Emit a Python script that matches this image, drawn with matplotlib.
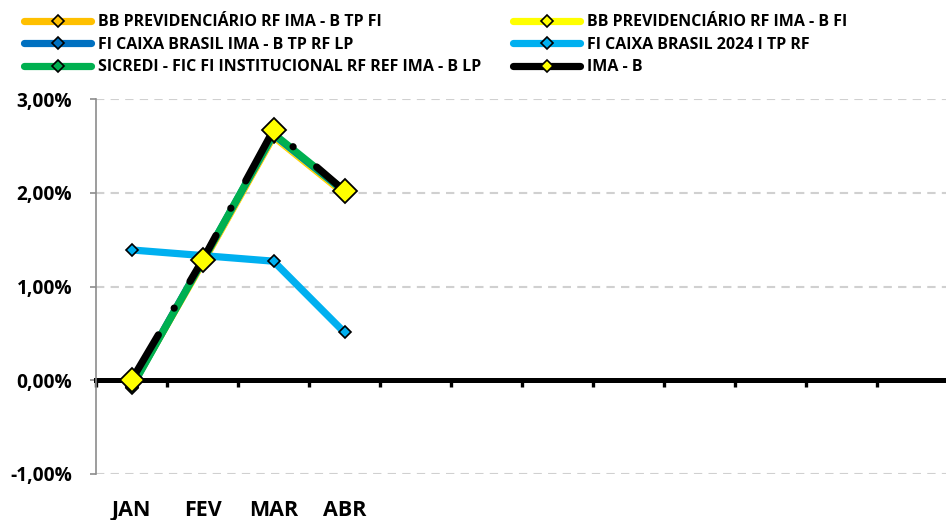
import matplotlib
matplotlib.use("Agg")
import matplotlib.pyplot as plt
from matplotlib.lines import Line2D
from matplotlib.ticker import FixedLocator, FuncFormatter

months = ["JAN", "FEV", "MAR", "ABR", "", "", "", "", "", "", "", ""]
series_names = [
    "BB PREVIDENCIÁRIO RF IMA - B TP FI",
    "BB PREVIDENCIÁRIO RF IMA - B FI",
    "FI CAIXA BRASIL IMA - B TP RF LP",
    "FI CAIXA BRASIL 2024 I TP RF",
    "SICREDI - FIC FI INSTITUCIONAL RF REF IMA - B LP",
    "IMA - B",
]
bb_tp = [-0.06, 1.25, 2.60, 1.99]
bb_fi = [-0.07, 1.26, 2.61, 2.00]
caixa_imab = [-0.07, 1.27, 2.62, 2.01]
caixa_2024 = [1.39, 1.33, 1.27, 0.51]
sicredi = [-0.08, 1.27, 2.63, 2.02]
imab = [0.00, 1.28, 2.67, 2.02]
y_ticks = [-1.0, 0.0, 1.0, 2.0, 3.0]

colors = ["#FFC000", "#FFFF00", "#0070C0", "#00B0F0", "#00B050", "#000000"]
data = [bb_tp, bb_fi, caixa_imab, caixa_2024, sicredi, imab]

plt.rcParams['font.family'] = ['Open Sans', 'DejaVu Sans']

fig = plt.figure(figsize=(9.46, 5.2), dpi=100)
ax = fig.add_axes([96/946, 46/520, 852/946, 375/520])

x = list(range(len(bb_tp)))
for i, (vals, c) in enumerate(zip(data, colors)):
    if i < 5:
        ax.plot(x, vals, color=c, lw=5.2, marker='D', ms=6.6, mfc=c, mec='black',
                mew=1.2, solid_capstyle='round', zorder=3 + i)
    else:
        ax.plot(x, vals, color='black', lw=5.2, linestyle=(0, (7.3, 4.3, 0.01, 4.3)),
                dash_capstyle='round', marker='D', ms=12.5, mfc='#FFFF00',
                mec='black', mew=1.3, zorder=10)

ax.set_xlim(-0.5, len(months) - 0.5)
ax.set_ylim(-1.0, 3.0)
ax.set_yticks(y_ticks)
ax.yaxis.set_major_formatter(FuncFormatter(lambda v, p: f"{v:.2f}%".replace('.', ',')))
for yv in y_ticks:
    if yv != 0:
        ax.axhline(yv, color='#D0D0D0', lw=1.5, linestyle=(0, (4, 3)), zorder=1)

for s in ['top', 'right']:
    ax.spines[s].set_visible(False)
ax.spines['left'].set_color('#8C8C8C')
ax.spines['left'].set_linewidth(1.2)
ax.spines['bottom'].set_position(('data', 0))
ax.spines['bottom'].set_linewidth(3.6)
ax.spines['bottom'].set_color('black')
ax.spines['bottom'].set_zorder(2)

ax.set_xticks(range(len(months)))
ax.set_xticklabels(months, fontsize=15.5, fontweight='bold')
ax.xaxis.set_minor_locator(FixedLocator([i - 0.5 for i in range(len(months) + 1)]))
ax.tick_params(axis='x', which='major', length=0, pad=86)
ax.tick_params(axis='x', which='minor', length=5, width=2.4, direction='out', color='black')
ax.tick_params(axis='y', length=4, color='#8C8C8C', width=1.2, labelsize=13.8, pad=13)
for t in ax.get_yticklabels():
    t.set_fontweight('bold')

handles = []
for name, c in zip(series_names, colors):
    if c == '#000000':
        h = Line2D([], [], color='black', lw=5.2, marker='D', ms=6.6, mfc='#FFFF00',
                   mec='black', mew=1.2, solid_capstyle='round')
    else:
        h = Line2D([], [], color=c, lw=5.2, marker='D', ms=6.6, mfc=c, mec='black',
                   mew=1.2, solid_capstyle='round')
    handles.append((h, name))
order = [0, 2, 4, 1, 3, 5]
leg = fig.legend([handles[i][0] for i in order], [handles[i][1] for i in order],
                 ncol=2, loc='upper left', bbox_to_anchor=(18/946, 1 - 8/520),
                 frameon=False, handlelength=4.2, handletextpad=0.4,
                 labelspacing=0.40, columnspacing=2.0, borderaxespad=0,
                 prop={'weight': 'bold', 'size': 11.5}, numpoints=1)

fig.savefig("out.png", dpi=100)
